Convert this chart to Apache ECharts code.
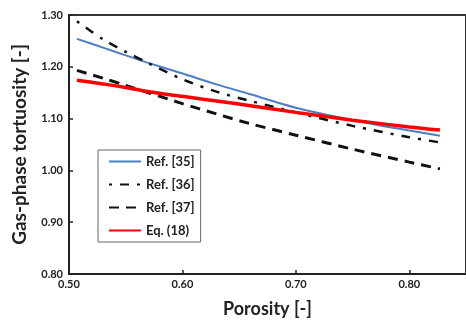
<!DOCTYPE html>
<html>
<head>
<meta charset="utf-8">
<script src="https://cdn.jsdelivr.net/npm/echarts@6/dist/echarts.min.js"></script>
<style>
  html, body { margin: 0; padding: 0; background: #fff; }
  #chart { width: 466px; height: 323px; }
</style>
</head>
<body>
<div id="chart"></div>
<script>
// Porosity values (x) where each correlation is sampled
const porosity = [0.507, 0.53, 0.55, 0.57, 0.60, 0.63, 0.66, 0.70, 0.75, 0.80, 0.827];

// Gas-phase tortuosity for each correlation
const ref35 = [1.254, 1.237, 1.222, 1.2075, 1.187, 1.166, 1.147, 1.121, 1.097, 1.077, 1.067];
const ref36 = [1.288, 1.253, 1.229, 1.207, 1.176, 1.152, 1.134, 1.112, 1.086, 1.064, 1.054];
const ref37 = [1.193, 1.178, 1.164, 1.150, 1.129, 1.109, 1.090, 1.068, 1.041, 1.016, 1.003];
const eq18  = [1.174, 1.167, 1.160, 1.152, 1.143, 1.134, 1.125, 1.112, 1.097, 1.084, 1.078];

const seriesNames = ['Ref. [35]', 'Ref. [36]', 'Ref. [37]', 'Eq. (18)'];

const pairs = ys => porosity.map((x, i) => [x, ys[i]]);
const FONT = 'Lato';

const chart = echarts.init(document.getElementById('chart'), null, { renderer: 'canvas' });

chart.setOption({
  animation: false,
  backgroundColor: '#ffffff',
  grid: {
    left: 69, top: 15, right: -6, bottom: 47,
    show: true, borderColor: '#333', borderWidth: 2, backgroundColor: 'transparent'
  },
  xAxis: {
    type: 'value',
    min: 0.5, max: 0.85, interval: 0.1,
    name: 'Porosity [-]',
    nameLocation: 'middle',
    nameGap: 26,
    nameTextStyle: { fontFamily: FONT, fontWeight: 'bold', fontSize: 18, color: '#222' },
    axisLine: { onZero: false, lineStyle: { color: '#222', width: 2 } },
    axisTick: { inside: true, length: 4, lineStyle: { color: '#222', width: 1.5 } },
    axisLabel: {
      margin: 5, showMaxLabel: false,
      fontFamily: FONT, fontWeight: 'bold', fontSize: 11, color: '#222',
      formatter: v => v.toFixed(2)
    },
    splitLine: { show: false }
  },
  yAxis: {
    type: 'value',
    min: 0.8, max: 1.3, interval: 0.1,
    name: 'Gas-phase tortuosity [-]',
    nameLocation: 'middle',
    nameGap: 40,
    nameTextStyle: { fontFamily: FONT, fontWeight: 'bold', fontSize: 19, color: '#222' },
    axisLine: { show: true, lineStyle: { color: '#222', width: 2 } },
    axisTick: { show: true, inside: true, length: 4, lineStyle: { color: '#222', width: 1.5 } },
    axisLabel: {
      margin: 6,
      fontFamily: FONT, fontWeight: 'bold', fontSize: 11, color: '#222',
      formatter: v => v.toFixed(2)
    },
    splitLine: { show: false }
  },
  legend: {
    data: seriesNames,
    orient: 'vertical',
    left: 98, top: 150,
    padding: [5, 6, 5, 10],
    itemWidth: 32, itemHeight: 14, itemGap: 10,
    borderColor: '#666', borderWidth: 1,
    backgroundColor: '#fff',
    // legend keys show only the line stroke, no marker
    itemStyle: { opacity: 0, color: 'transparent', borderWidth: 0 },
    textStyle: { fontFamily: FONT, fontWeight: 'bold', fontSize: 13, color: '#222' }
  },
  series: [
    {
      name: seriesNames[0], type: 'line', data: pairs(ref35), smooth: 0.3,
      symbol: 'none', color: '#4a7fc4',
      lineStyle: { color: '#4a7fc4', width: 2 }
    },
    {
      name: seriesNames[1], type: 'line', data: pairs(ref36), smooth: 0.3,
      symbol: 'none', color: '#111',
      lineStyle: { color: '#111', width: 2.5, type: [3, 8, 9, 8], cap: 'butt' }
    },
    {
      name: seriesNames[2], type: 'line', data: pairs(ref37), smooth: 0.3,
      symbol: 'none', color: '#111',
      lineStyle: { color: '#111', width: 3, type: [10, 7], cap: 'butt' }
    },
    {
      name: seriesNames[3], type: 'line', data: pairs(eq18), smooth: 0.3,
      symbol: 'none', color: '#ff0000',
      lineStyle: { color: '#ff0000', width: 3.5 }
    }
  ]
});
</script>
</body>
</html>
